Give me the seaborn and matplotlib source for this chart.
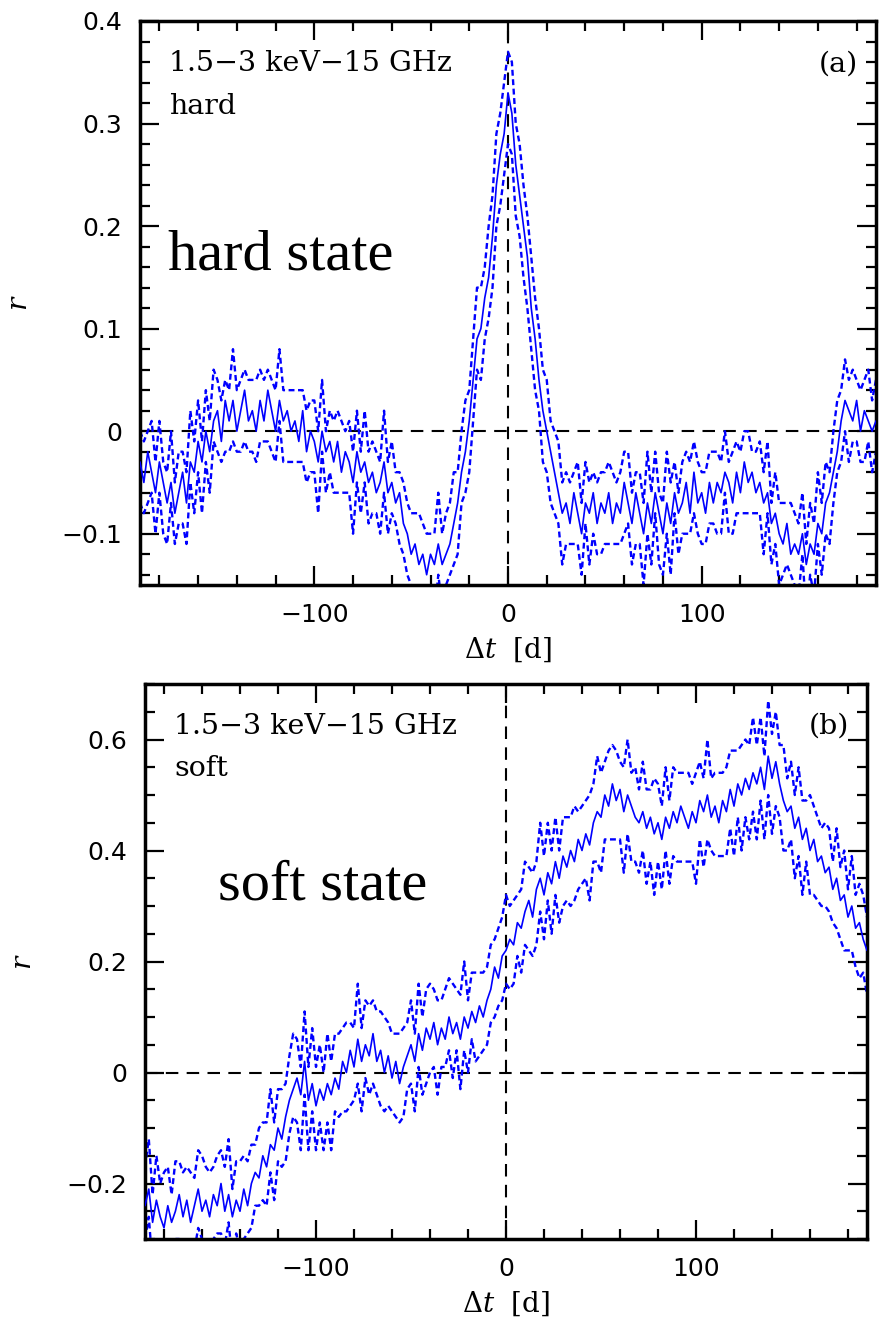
import numpy as np
import pandas as pd
import matplotlib
matplotlib.use("Agg")
import matplotlib.pyplot as plt
from matplotlib.ticker import MultipleLocator, FuncFormatter
import seaborn as sns

# ---------------- data ----------------
lag = list(range(-190, 191, 2))  # days

hard_r = [
    -0.03, -0.05, -0.02, -0.04, -0.06, -0.03, -0.05, -0.07, -0.05, -0.08,
    -0.06, -0.04, -0.07, -0.03, -0.04, -0.01, -0.03, 0.00, -0.02, 0.01,
    0.02, -0.01, 0.03, 0.01, 0.03, 0.00, 0.02, 0.04, 0.01, 0.02,
    0.00, 0.03, 0.01, 0.04, 0.02, 0.00, 0.03, 0.01, 0.02, 0.00,
    0.01, -0.01, 0.02, -0.02, 0.00, -0.01, -0.03, 0.00, -0.02, -0.01,
    -0.03, -0.01, -0.04, -0.02, -0.03, -0.05, -0.02, -0.04, -0.03, -0.05,
    -0.04, -0.06, -0.05, -0.03, -0.06, -0.05, -0.07, -0.06, -0.09, -0.10,
    -0.12, -0.11, -0.13, -0.12, -0.14, -0.12, -0.13, -0.11, -0.13, -0.12,
    -0.11, -0.09, -0.07, -0.04, -0.02, 0.01, 0.05, 0.09, 0.10, 0.13,
    0.15, 0.19, 0.24, 0.27, 0.29, 0.33, 0.31, 0.26, 0.23, 0.20,
    0.17, 0.12, 0.09, 0.05, 0.02, 0.00, -0.02, -0.04, -0.06, -0.08,
    -0.07, -0.09, -0.06, -0.08, -0.10, -0.07, -0.08, -0.06, -0.09, -0.07,
    -0.08, -0.06, -0.09, -0.07, -0.08, -0.05, -0.07, -0.09, -0.06, -0.08,
    -0.10, -0.07, -0.09, -0.06, -0.08, -0.10, -0.07, -0.09, -0.06, -0.08,
    -0.07, -0.05, -0.08, -0.04, -0.07, -0.06, -0.08, -0.05, -0.07, -0.05,
    -0.06, -0.04, -0.05, -0.07, -0.04, -0.06, -0.03, -0.05, -0.04, -0.06,
    -0.05, -0.07, -0.06, -0.09, -0.08, -0.10, -0.11, -0.09, -0.12, -0.11,
    -0.12, -0.10, -0.13, -0.11, -0.12, -0.09, -0.10, -0.07, -0.06, -0.04,
    -0.02, 0.01, 0.03, 0.02, 0.01, 0.03, 0.00, 0.02, 0.01, 0.00,
    0.01,
]
hard_up_dev = [
    .03, .04, .02, .05, .03, .04, .02, .03, .05, .03,
    .04, .02, .03, .05, .03, .04, .02, .04, .03, .05,
    .03, .04, .02, .03, .05, .04, .03, .02, .04, .03,
    .05, .03, .04, .02, .03, .04, .05, .03, .02, .04,
    .03, .05, .02, .04, .03, .04, .03, .05, .02, .03,
    .04, .03, .05, .02, .04, .03, .04, .02, .05, .03,
    .03, .04, .02, .05, .03, .04, .03, .02, .04, .03,
    .04, .03, .05, .03, .04, .02, .03, .05, .03, .04,
    .04, .05, .03, .04, .05, .03, .04, .05, .04, .03,
    .05, .04, .05, .04, .05, .04, .05, .04, .05, .04,
    .04, .05, .04, .05, .04, .05, .03, .04, .05, .03,
    .03, .04, .02, .05, .03, .04, .03, .02, .04, .03,
    .04, .03, .05, .02, .04, .03, .05, .03, .02, .04,
    .03, .05, .03, .04, .02, .03, .05, .04, .03, .02,
    .04, .03, .05, .03, .04, .02, .04, .03, .05, .03,
    .03, .04, .02, .05, .03, .04, .03, .05, .02, .04,
    .04, .03, .05, .02, .04, .03, .04, .02, .05, .03,
    .03, .04, .02, .04, .03, .05, .03, .04, .02, .04,
    .05, .03, .04, .03, .05, .02, .04, .03, .05, .03,
    .04,
]
hard_lo_dev = [
    .04, .03, .05, .02, .04, .03, .05, .04, .02, .03,
    .03, .05, .04, .02, .04, .03, .05, .03, .04, .02,
    .04, .02, .05, .03, .04, .02, .04, .05, .03, .04,
    .03, .04, .02, .05, .04, .03, .02, .04, .05, .03,
    .04, .02, .05, .03, .04, .03, .05, .02, .04, .03,
    .03, .05, .02, .04, .03, .05, .03, .04, .02, .04,
    .04, .02, .05, .03, .04, .03, .02, .05, .03, .04,
    .03, .05, .03, .04, .02, .04, .05, .03, .04, .03,
    .03, .04, .05, .03, .04, .05, .04, .03, .05, .04,
    .04, .05, .04, .05, .04, .05, .04, .05, .04, .05,
    .05, .04, .05, .03, .05, .04, .05, .04, .03, .05,
    .04, .02, .05, .03, .04, .02, .05, .04, .03, .05,
    .03, .05, .02, .04, .03, .05, .02, .04, .05, .03,
    .05, .03, .04, .02, .05, .04, .03, .05, .02, .04,
    .03, .05, .02, .04, .03, .05, .03, .04, .02, .05,
    .04, .02, .05, .03, .04, .02, .05, .03, .04, .02,
    .03, .05, .02, .04, .03, .05, .03, .04, .02, .04,
    .04, .02, .05, .03, .04, .02, .04, .03, .05, .03,
    .02, .04, .03, .05, .02, .04, .03, .05, .02, .04,
    .03,
]

soft_r = [
    -0.24, -0.21, -0.27, -0.23, -0.26, -0.28, -0.24, -0.27, -0.25, -0.22,
    -0.26, -0.23, -0.27, -0.24, -0.21, -0.25, -0.23, -0.26, -0.22, -0.24,
    -0.20, -0.25, -0.22, -0.26, -0.23, -0.25, -0.21, -0.24, -0.20, -0.18,
    -0.19, -0.15, -0.17, -0.13, -0.14, -0.10, -0.12, -0.08, -0.05, -0.03,
    -0.01, -0.04, 0.02, -0.05, -0.02, -0.06, -0.03, -0.05, -0.02, -0.04,
    -0.01, -0.03, 0.02, 0.00, 0.04, 0.01, 0.06, 0.02, 0.05, 0.03,
    0.07, 0.02, 0.04, 0.00, 0.03, -0.01, 0.02, -0.02, 0.01, 0.03,
    0.05, 0.02, 0.07, 0.04, 0.08, 0.06, 0.09, 0.05, 0.08, 0.06,
    0.10, 0.07, 0.09, 0.06, 0.10, 0.08, 0.11, 0.09, 0.12, 0.10,
    0.13, 0.15, 0.19, 0.17, 0.21, 0.22, 0.24, 0.23, 0.27, 0.26,
    0.29, 0.31, 0.28, 0.33, 0.35, 0.32, 0.36, 0.34, 0.38, 0.35,
    0.39, 0.37, 0.40, 0.38, 0.42, 0.40, 0.43, 0.41, 0.45, 0.47,
    0.46, 0.50, 0.48, 0.52, 0.49, 0.51, 0.47, 0.50, 0.48, 0.46,
    0.45, 0.47, 0.44, 0.46, 0.43, 0.45, 0.42, 0.46, 0.44, 0.47,
    0.45, 0.48, 0.46, 0.44, 0.47, 0.45, 0.49, 0.47, 0.50, 0.46,
    0.48, 0.45, 0.49, 0.47, 0.51, 0.48, 0.52, 0.50, 0.53, 0.51,
    0.54, 0.52, 0.55, 0.51, 0.57, 0.53, 0.56, 0.52, 0.49, 0.47,
    0.48, 0.44, 0.46, 0.42, 0.44, 0.40, 0.42, 0.38, 0.39, 0.36,
    0.37, 0.33, 0.35, 0.31, 0.32, 0.28, 0.30, 0.26, 0.27, 0.24,
    0.22,
]
soft_up_dev = [
    .07, .09, .05, .08, .06, .10, .07, .05, .09, .06,
    .08, .06, .09, .05, .07, .10, .06, .08, .05, .09,
    .06, .08, .10, .05, .07, .09, .06, .08, .07, .05,
    .09, .06, .08, .10, .05, .07, .09, .06, .08, .10,
    .07, .05, .09, .06, .10, .07, .08, .05, .09, .06,
    .08, .10, .06, .09, .05, .07, .10, .06, .08, .09,
    .06, .09, .07, .10, .06, .08, .05, .09, .07, .06,
    .08, .05, .09, .06, .07, .10, .06, .08, .05, .09,
    .07, .09, .06, .08, .10, .05, .07, .09, .06, .08,
    .06, .08, .05, .09, .07, .10, .06, .08, .05, .07,
    .09, .06, .08, .05, .10, .07, .09, .06, .08, .05,
    .07, .09, .06, .10, .05, .08, .06, .09, .07, .10,
    .08, .06, .10, .07, .09, .05, .08, .10, .06, .09,
    .06, .09, .07, .05, .10, .07, .06, .09, .05, .08,
    .09, .06, .08, .10, .05, .09, .07, .06, .10, .07,
    .06, .09, .05, .08, .07, .10, .06, .09, .07, .08,
    .10, .07, .09, .06, .10, .08, .09, .07, .10, .06,
    .08, .06, .09, .07, .05, .10, .06, .08, .05, .09,
    .07, .05, .09, .06, .08, .05, .09, .06, .07, .08,
    .06,
]
soft_lo_dev = [
    .06, .05, .08, .07, .05, .06, .09, .07, .05, .08,
    .06, .09, .05, .08, .07, .05, .09, .06, .08, .05,
    .09, .06, .05, .08, .06, .07, .09, .05, .08, .06,
    .05, .08, .07, .05, .09, .06, .05, .08, .06, .05,
    .08, .10, .06, .09, .05, .08, .06, .09, .07, .10,
    .06, .05, .09, .07, .10, .06, .08, .09, .06, .07,
    .09, .06, .10, .07, .09, .06, .10, .07, .09, .06,
    .07, .09, .06, .08, .10, .06, .08, .09, .07, .05,
    .06, .08, .05, .09, .06, .08, .05, .07, .09, .06,
    .08, .06, .09, .05, .08, .06, .09, .07, .06, .08,
    .06, .09, .07, .10, .06, .08, .05, .09, .06, .08,
    .09, .06, .10, .07, .09, .06, .08, .10, .07, .09,
    .10, .08, .06, .10, .07, .09, .11, .07, .10, .08,
    .09, .07, .10, .08, .11, .07, .09, .06, .10, .08,
    .07, .10, .08, .06, .09, .11, .07, .10, .08, .06,
    .09, .06, .10, .08, .07, .09, .06, .10, .07, .09,
    .07, .10, .06, .09, .07, .10, .08, .06, .09, .07,
    .06, .09, .07, .10, .06, .08, .10, .07, .09, .06,
    .08, .06, .09, .07, .10, .06, .08, .07, .10, .06,
    .08,
]

panel_titles = ["1.5\u22123 keV\u221215 GHz", "1.5\u22123 keV\u221215 GHz"]
panel_states = ["hard", "soft"]
panel_tags = ["(a)", "(b)"]
panel_big = ["hard state", "soft state"]
xlabel = "$\\Delta t$  [d]"
ylabel = "$r$"

# ---------------- style ----------------
sns.set_style("ticks")
plt.rcParams["font.family"] = ["DejaVu Sans"]
plt.rcParams["mathtext.fontset"] = "dejavuserif"
plt.rcParams["text.color"] = "black"
plt.rcParams["axes.labelcolor"] = "black"
plt.rcParams["xtick.color"] = "black"
plt.rcParams["ytick.color"] = "black"

BLUE = "#0000ff"

fig = plt.figure(figsize=(8.82, 13.23), dpi=100)
ax_a = fig.add_axes([140 / 882, 1 - 585 / 1323, (876 - 140) / 882, (585 - 21) / 1323])
ax_b = fig.add_axes([145 / 882, 1 - 1239 / 1323, (867 - 145) / 882, (1239 - 684) / 1323])


def fmt(v, pos):
    s = "%g" % round(v, 6)
    return s.replace("-", "\u2212")


def draw_panel(ax, r, up_dev, lo_dev, ylim, ymaj, ymin, idx, big_xy, ylab_x):
    df = pd.DataFrame({
        "lag": lag,
        "r": r,
        "upper": np.array(r) + np.array(up_dev),
        "lower": np.array(r) - np.array(lo_dev),
    })
    ax.axhline(0, color="black", lw=1.5, ls=(0, (6, 4)), zorder=1)
    ax.axvline(0, color="black", lw=1.5, ls=(0, (6, 4)), zorder=1)
    sns.lineplot(data=df, x="lag", y="upper", ax=ax, color=BLUE, lw=1.7,
                 linestyle=(0, (2.5, 1.5)), zorder=2)
    sns.lineplot(data=df, x="lag", y="lower", ax=ax, color=BLUE, lw=1.7,
                 linestyle=(0, (2.5, 1.5)), zorder=2)
    sns.lineplot(data=df, x="lag", y="r", ax=ax, color=BLUE, lw=1.2, zorder=3)

    ax.set_xlim(-190, 190)
    ax.set_ylim(*ylim)
    ax.xaxis.set_major_locator(MultipleLocator(100))
    ax.xaxis.set_minor_locator(MultipleLocator(20))
    ax.yaxis.set_major_locator(MultipleLocator(ymaj))
    ax.yaxis.set_minor_locator(MultipleLocator(ymin))
    ax.xaxis.set_major_formatter(FuncFormatter(fmt))
    ax.yaxis.set_major_formatter(FuncFormatter(fmt))
    ax.tick_params(which="both", direction="in", top=True, right=True,
                   width=1.6, colors="black", labelsize=18)
    ax.tick_params(which="major", length=14, pad=13)
    ax.tick_params(which="minor", length=7)
    for sp in ax.spines.values():
        sp.set_linewidth(2.5)
        sp.set_color("black")
    ax.set_xlabel(xlabel, fontsize=20, labelpad=6, family="DejaVu Serif")
    ax.set_ylabel(ylabel, fontsize=20)
    ax.yaxis.set_label_coords(ylab_x, 0.5)

    ax.text(0.040, 0.948, panel_titles[idx], transform=ax.transAxes,
            fontsize=20.5, family="DejaVu Serif", ha="left", va="top")
    ax.text(0.040, 0.872, panel_states[idx], transform=ax.transAxes,
            fontsize=20.5, family="DejaVu Serif", ha="left", va="top")
    ax.text(0.975, 0.948, panel_tags[idx], transform=ax.transAxes,
            fontsize=20.5, family="DejaVu Serif", ha="right", va="top")
    ax.text(big_xy[0], big_xy[1], panel_big[idx], transform=ax.transAxes,
            fontsize=42, family="Liberation Serif", ha="left",
            va="baseline")


draw_panel(ax_a, hard_r, hard_up_dev, hard_lo_dev, (-0.15, 0.4), 0.1, 0.02, 0,
           ((168 - 140) / 736, (585 - 270) / 564), (33 - 140) / 736)
draw_panel(ax_b, soft_r, soft_up_dev, soft_lo_dev, (-0.3, 0.7), 0.2, 0.05, 1,
           ((218 - 145) / 722, (1239 - 900) / 555), (37 - 145) / 722)

fig.savefig("out.png", dpi=100)
